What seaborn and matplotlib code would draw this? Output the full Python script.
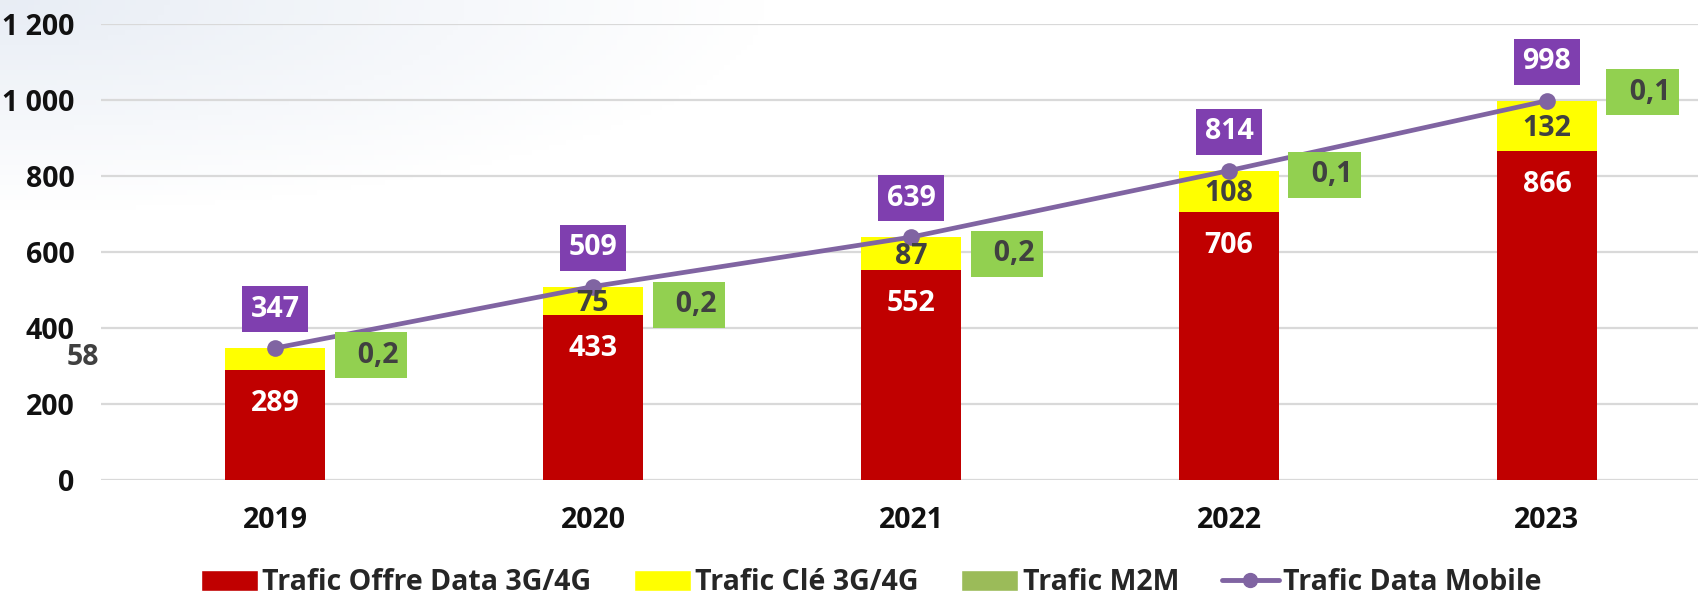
import numpy as np
import pandas as pd
import matplotlib
matplotlib.use("Agg")
import matplotlib.pyplot as plt
from matplotlib.patches import Patch
from matplotlib.lines import Line2D
from matplotlib.ticker import FuncFormatter
import seaborn as sns

# Data
years = ["2019", "2020", "2021", "2022", "2023"]
offre_data = [289, 433, 552, 706, 866]
cle = [58, 75, 87, 108, 132]
m2m = [0.2, 0.2, 0.2, 0.1, 0.1]
total_mobile = [347, 509, 639, 814, 998]
y_ticks = [0, 200, 400, 600, 800, 1000, 1200]

# Layout tweaks (label offsets in points, hand-moved in the original)
m2m_label_dy = [-5, -13, -12, -3, 6]

RED = "#C00000"
YELLOW = "#FFFF00"
GREEN = "#92D050"
GREEN_LEG = "#9BBB59"
PURPLE_LINE = "#8064A2"
PURPLE_BOX = "#7F3FAF"
DARK = "#404040"

sns.set_theme(style="white")
plt.rcParams["font.family"] = ["Open Sans", "DejaVu Sans"]
plt.rcParams["font.weight"] = "bold"

df = pd.DataFrame({"year": years, "offre": offre_data, "cle": cle,
                   "stack": np.array(offre_data) + np.array(cle)})

fig = plt.figure(figsize=(16.98, 5.99), dpi=100)

# faint bluish wash in the top-left corner
bg = fig.add_axes([0, 0, 1, 1], zorder=-10)
gx, gy = np.meshgrid(np.linspace(0, 1, 300), np.linspace(0, 1, 120))
wash = np.clip(1 - np.sqrt((gx / 0.45) ** 2 + ((1 - gy) / 0.35) ** 2), 0, 1)
img = np.ones((120, 300, 3))
tint = np.array([0.91, 0.93, 0.96])
img = img * (1 - wash[..., None]) + tint * wash[..., None]
bg.imshow(img, extent=[0, 1, 0, 1], aspect="auto", origin="lower")
bg.axis("off")

ax = fig.add_axes([0.0595, 0.1987, 0.9405, 0.7613])
ax.patch.set_alpha(0)

sns.barplot(data=df, x="year", y="stack", color=YELLOW, width=0.315,
            saturation=1, linewidth=0, ax=ax, zorder=2)
sns.barplot(data=df, x="year", y="offre", color=RED, width=0.315,
            saturation=1, linewidth=0, ax=ax, zorder=3)
sns.lineplot(x=np.arange(len(years)), y=total_mobile, color=PURPLE_LINE,
             linewidth=3.4, marker="o", markersize=12, markeredgewidth=0,
             ax=ax, zorder=5)

ax.set_ylim(0, 1200)
ax.set_xlim(-0.547, 4.475)
ax.set_yticks(y_ticks)
ax.yaxis.set_major_formatter(FuncFormatter(lambda v, p: f"{int(v):,}".replace(",", " ")))
ax.grid(axis="y", color="#D9D9D9", linewidth=1.6, zorder=0)
ax.set_axisbelow(True)
for s in ax.spines.values():
    s.set_visible(False)
ax.set_xlabel("")
ax.set_ylabel("")
fs = 20.5
ax.tick_params(axis="y", length=0, pad=19, labelsize=fs, labelcolor="#111111")
ax.tick_params(axis="x", length=0, pad=19, labelsize=fs, labelcolor="#111111")
for lab in ax.get_xticklabels() + ax.get_yticklabels():
    lab.set_fontweight("bold")

for i in range(len(years)):
    # red segment label, inside end
    ax.annotate(str(offre_data[i]), (i, offre_data[i]), xytext=(0, -24),
                textcoords="offset points", ha="center", va="center",
                color="white", fontsize=fs, fontweight="bold", zorder=6)
    # yellow segment label (2019 sits outside, left of the bar)
    if i == 0:
        ax.annotate(str(cle[i]), (i, offre_data[i] + cle[i]), xytext=(-138, -7),
                    textcoords="offset points", ha="center", va="center",
                    color=DARK, fontsize=fs, fontweight="bold", zorder=6)
    else:
        ax.annotate(str(cle[i]), (i, offre_data[i] + cle[i] / 2), xytext=(0, -2),
                    textcoords="offset points", ha="center", va="center",
                    color=DARK, fontsize=fs, fontweight="bold", zorder=6)
    # mobile total, purple box
    ax.annotate(str(total_mobile[i]), (i, total_mobile[i]), xytext=(0, 28),
                textcoords="offset points", ha="center", va="center",
                color="white", fontsize=fs, fontweight="bold", zorder=7,
                bbox=dict(boxstyle="square,pad=0.3", fc=PURPLE_BOX, ec="none"))
    # M2M label, green box
    ax.annotate("  " + f"{m2m[i]:.1f}".replace(".", ","), (i, total_mobile[i]),
                xytext=(69, m2m_label_dy[i]),
                textcoords="offset points", ha="center", va="center",
                color=DARK, fontsize=fs, fontweight="bold", zorder=7,
                bbox=dict(boxstyle="square,pad=0.3", fc=GREEN, ec="none"))

handles = [
    Patch(facecolor=RED, label="Trafic Offre Data 3G/4G"),
    Patch(facecolor=YELLOW, label="Trafic Clé 3G/4G"),
    Patch(facecolor=GREEN_LEG, label="Trafic M2M"),
    Line2D([0], [0], color=PURPLE_LINE, linewidth=3.5, marker="o",
           markersize=10, label="Trafic Data Mobile"),
]
fig.legend(handles=handles, loc="center", bbox_to_anchor=(0.513, 0.027),
           ncol=4, frameon=False, handlelength=2.0,
           handleheight=0.8, handletextpad=0.15, columnspacing=1.5,
           prop={"weight": "bold", "size": fs})

fig.savefig("out.png", dpi=100)
